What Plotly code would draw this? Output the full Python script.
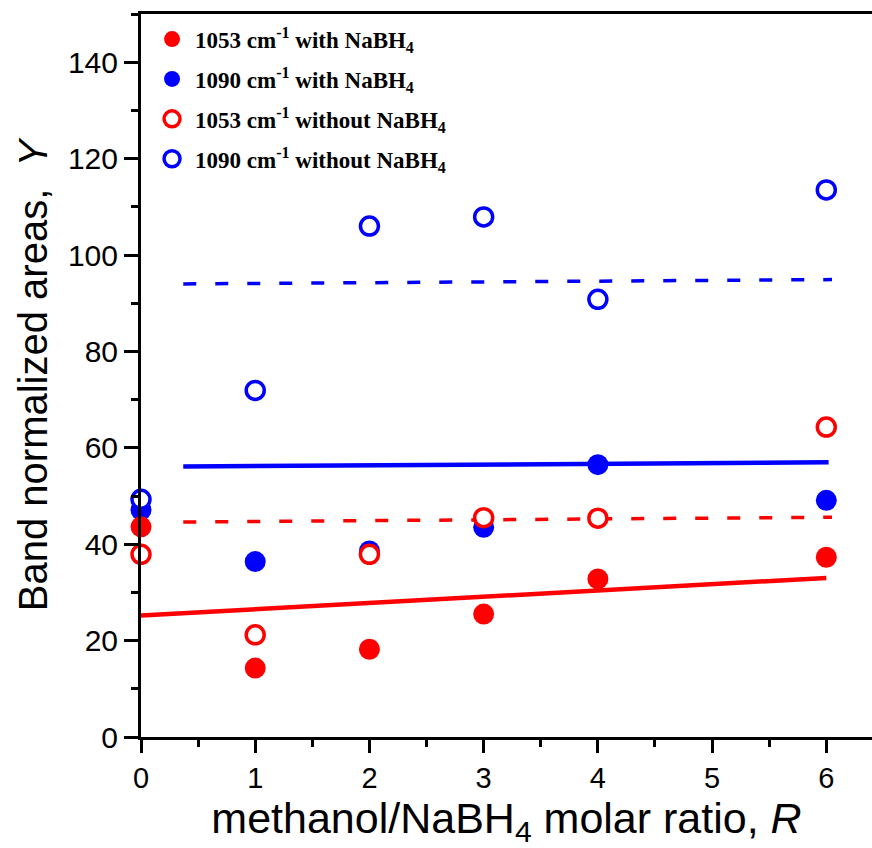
import plotly.graph_objects as go

# ---- data ----
R = [0, 1, 2, 3, 4, 6]
y1053_with = [43.6, 14.3, 18.2, 25.5, 32.8, 37.3]
y1090_with = [47.1, 36.4, 38.6, 43.5, 56.5, 49.1]
y1053_without = [37.9, 21.2, 37.9, 45.5, 45.4, 64.3]
y1090_without = [49.3, 71.9, 106.0, 107.9, 90.8, 113.5]

fit_1053_with_x = [0.0, 6.0]
fit_1053_with_y = [25.2, 33.0]
fit_1090_with_x = [0.37, 6.02]
fit_1090_with_y = [56.1, 57.0]
fit_1053_without_x = [0.37, 6.05]
fit_1053_without_y = [44.6, 45.6]
fit_1090_without_x = [0.37, 6.05]
fit_1090_without_y = [94.0, 94.9]

x_ticks = [0, 1, 2, 3, 4, 5, 6]
y_ticks = [0, 20, 40, 60, 80, 100, 120, 140]

RED = "#FF0000"
BLUE = "#0000FF"

fig = go.Figure()

# fit lines
fig.add_trace(go.Scatter(x=fit_1053_with_x, y=fit_1053_with_y, mode="lines",
                         line=dict(color=RED, width=4.5), showlegend=False, hoverinfo="skip"))
fig.add_trace(go.Scatter(x=fit_1090_with_x, y=fit_1090_with_y, mode="lines",
                         line=dict(color=BLUE, width=4.5), showlegend=False, hoverinfo="skip"))
fig.add_trace(go.Scatter(x=fit_1053_without_x, y=fit_1053_without_y, mode="lines",
                         line=dict(color=RED, width=3.5, dash="13px,19px"), showlegend=False, hoverinfo="skip"))
fig.add_trace(go.Scatter(x=fit_1090_without_x, y=fit_1090_without_y, mode="lines",
                         line=dict(color=BLUE, width=3.5, dash="13px,19px"), showlegend=False, hoverinfo="skip"))

# markers
fig.add_trace(go.Scatter(x=R, y=y1090_with, mode="markers", name="1090 cm<sup>-1</sup> with NaBH<sub>4</sub>",
                         marker=dict(symbol="circle", size=21, color=BLUE, line=dict(width=0)),
                         cliponaxis=False, legendrank=2, legendgroup="b"))
fig.add_trace(go.Scatter(x=R, y=y1053_with, mode="markers", name="1053 cm<sup>-1</sup> with NaBH<sub>4</sub>",
                         marker=dict(symbol="circle", size=21, color=RED, line=dict(width=0)),
                         cliponaxis=False, legendrank=1, legendgroup="a"))
fig.add_trace(go.Scatter(x=R, y=y1053_without, mode="markers", name="1053 cm<sup>-1</sup> without NaBH<sub>4</sub>",
                         marker=dict(symbol="circle", size=18, color="white", line=dict(width=3.5, color=RED)),
                         cliponaxis=False, legendrank=3, legendgroup="c"))
fig.add_trace(go.Scatter(x=R, y=y1090_without, mode="markers", name="1090 cm<sup>-1</sup> without NaBH<sub>4</sub>",
                         marker=dict(symbol="circle", size=18, color="white", line=dict(width=3.5, color=BLUE)),
                         cliponaxis=False, legendrank=4, legendgroup="d"))

fig.update_layout(
    width=872, height=848,
    margin=dict(l=141, r=0, t=14, b=111, autoexpand=False),
    plot_bgcolor="white", paper_bgcolor="white",
    font=dict(family="Liberation Sans, Arial, sans-serif", color="black"),
    showlegend=True,
    legend=dict(x=0.011, y=0.995, xanchor="left", yanchor="top",
                bgcolor="rgba(0,0,0,0)", borderwidth=0,
                font=dict(family="Liberation Serif, Times New Roman, serif", size=23, color="black", weight="bold"),
                traceorder="grouped", tracegroupgap=7, itemwidth=36),
    xaxis=dict(range=[0, 6.4], showline=True, linewidth=3, linecolor="black", mirror=True,
               showgrid=False, zeroline=False, automargin=False,
               tickmode="array", tickvals=x_ticks, ticktext=[str(v) for v in x_ticks],
               ticks="outside", ticklen=13, tickwidth=3, tickcolor="black",
               tickfont=dict(size=29),
               minor=dict(dtick=0.5, ticks="outside", ticklen=7, tickwidth=3, tickcolor="black"),
               title=dict(text="methanol/NaBH<sub>4</sub> molar ratio, <i>R</i>", font=dict(size=43), standoff=0)),
    yaxis=dict(range=[0, 150], showline=True, linewidth=3, linecolor="black",
               showgrid=False, zeroline=False, automargin=False,
               tickmode="array", tickvals=y_ticks, ticktext=[str(v) for v in y_ticks],
               ticks="outside", ticklen=14, tickwidth=3, tickcolor="black",
               tickfont=dict(size=30),
               minor=dict(dtick=10, ticks="outside", ticklen=7, tickwidth=3, tickcolor="black"),
               title=dict(text="Band normalized areas,  <i>Y</i>", font=dict(size=40), standoff=8)),
)

fig.write_html("out.html", config={"displayModeBar": False},
               post_script="document.body.style.margin='0px';")
